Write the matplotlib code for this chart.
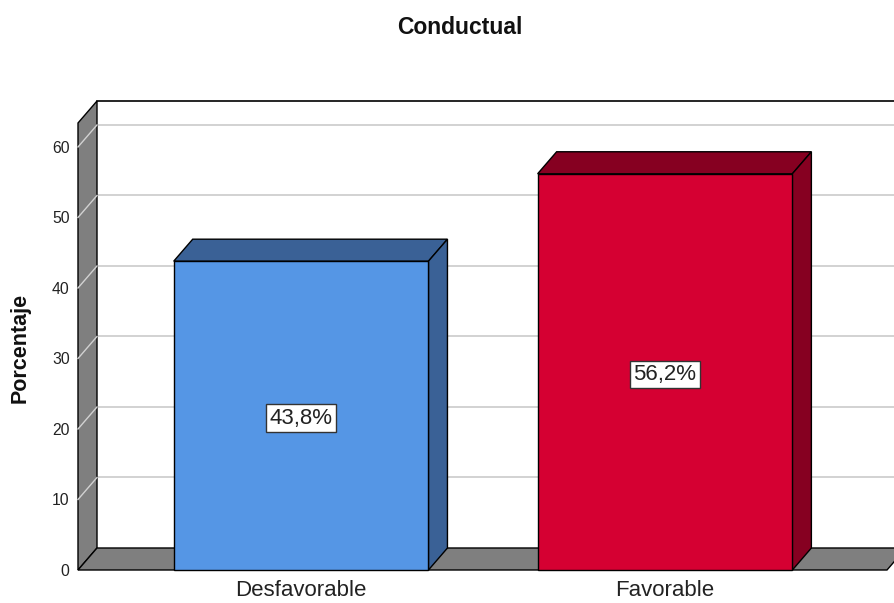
import matplotlib
matplotlib.use("Agg")
import matplotlib.pyplot as plt
from matplotlib.patches import Polygon, Rectangle

categories = ["Desfavorable", "Favorable"]
percentages = [43.8, 56.2]
front_colors = ["#5596e5", "#d50032"]
dark_colors = ["#3a6196", "#860021"]
yticks = [0, 10, 20, 30, 40, 50, 60]

W, H, DPI = 894, 603, 100
plt.rcParams["font.family"] = ["Liberation Sans", "DejaVu Sans"]

fig = plt.figure(figsize=(W / DPI, H / DPI), dpi=DPI)
fig.patch.set_facecolor("white")

# front plane of the 3d box, in pixels
left_px, right_px, bottom_px, top_px = 78, 887, 570, 123
ax = fig.add_axes([left_px / W, 1 - bottom_px / H,
                   (right_px - left_px) / W, (bottom_px - top_px) / H])
xmin, xmax = -0.613, 1.61
ymin, ymax = 0, 63.4
ax.set_xlim(xmin, xmax)
ax.set_ylim(ymin, ymax)
ax.patch.set_visible(False)
for s in ax.spines.values():
    s.set_visible(False)

# depth offset (19 px right, 22 px up) in data units
ddx = 19 * (xmax - xmin) / (right_px - left_px)
ddy = 22 * (ymax - ymin) / (bottom_px - top_px)

wall = "#7f7f7f"
grid = "#d2d2d2"
edge = "black"
ew = 1.0

# grid lines on the back wall and across the left wall
for v in yticks[1:]:
    ax.plot([xmin + ddx, xmax + ddx + 1], [v + ddy, v + ddy], color=grid,
            lw=1.4, zorder=1, clip_on=False)

# left wall
ax.add_patch(Polygon([(xmin, 0), (xmin, ymax), (xmin + ddx, ymax + ddy),
                      (xmin + ddx, ddy)], closed=True, facecolor=wall,
                     edgecolor=edge, lw=ew, zorder=2, clip_on=False))
for v in yticks[1:]:
    ax.plot([xmin, xmin + ddx], [v, v + ddy], color=grid, lw=1.0,
            zorder=3, clip_on=False)
# top edge of back wall
ax.plot([xmin + ddx, xmax + ddx + 1], [ymax + ddy, ymax + ddy], color=edge,
        lw=1.2, zorder=3, clip_on=False)

# floor
ax.add_patch(Polygon([(xmin, 0), (xmax, 0), (xmax + ddx, ddy),
                      (xmin + ddx, ddy)], closed=True, facecolor=wall,
                     edgecolor=edge, lw=ew, zorder=3, clip_on=False))

# bars
bw = 0.70
for i, (v, fc, dc) in enumerate(zip(percentages, front_colors, dark_colors)):
    x0, x1 = i - bw / 2, i + bw / 2
    ax.add_patch(Polygon([(x0, v), (x1, v), (x1 + ddx, v + ddy),
                          (x0 + ddx, v + ddy)], closed=True, facecolor=dc,
                         edgecolor=edge, lw=ew, zorder=4, clip_on=False))
    ax.add_patch(Polygon([(x1, 0), (x1 + ddx, ddy), (x1 + ddx, v + ddy),
                          (x1, v)], closed=True, facecolor=dc,
                         edgecolor=edge, lw=ew, zorder=4, clip_on=False))
    ax.add_patch(Rectangle((x0, 0), bw, v, facecolor=fc, edgecolor=edge,
                           lw=ew, zorder=5, clip_on=False))
    label = f"{v:.1f}%".replace(".", ",")
    ax.text(i, v / 2, label, ha="center", va="center_baseline", fontsize=16,
            color="#222222", zorder=6,
            bbox=dict(boxstyle="square,pad=0.15", facecolor="white",
                      edgecolor="#333333", lw=1.0))

ax.set_xticks(range(len(categories)))
ax.set_xticklabels(categories, fontsize=16, color="#222222")
ax.set_yticks(yticks)
ax.set_yticklabels([str(t) for t in yticks], fontsize=11.3, color="#222222")
ax.tick_params(axis="both", length=0)
ax.tick_params(axis="x", pad=7.5)
ax.tick_params(axis="y", pad=6)

fig.text(20 / W, 1 - 348 / H, "Porcentaje", rotation=90, ha="center",
         va="center", fontsize=15.5, fontweight="bold", color="#111111")
fig.text(460 / W, 1 - 28 / H, "Conductual", ha="center", va="center",
         fontsize=16.5, fontweight="bold", color="#111111")

fig.savefig("out.png", dpi=DPI, facecolor="white")
